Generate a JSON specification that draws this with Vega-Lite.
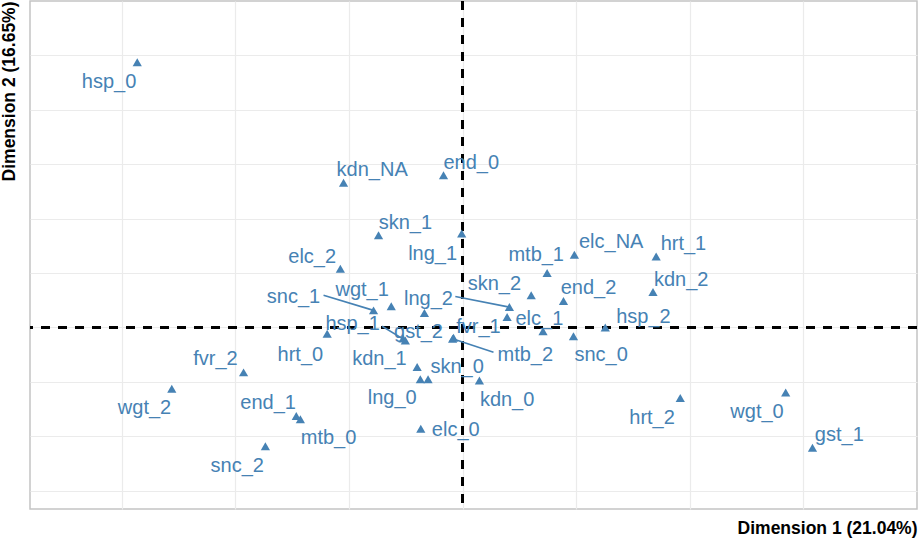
{
  "$schema": "https://vega.github.io/schema/vega-lite/v6.json",
  "width": 887,
  "height": 508,
  "autosize": {"type": "none"},
  "padding": {"left": 30, "top": 1, "right": 5, "bottom": 30},
  "background": "white",
  "config": {
    "view": {"stroke": "#c4c4c4", "strokeWidth": 1.5},
    "font": "Liberation Sans",
    "axis": {
      "labels": false, "ticks": false, "domain": false,
      "grid": true, "gridColor": "#ebebeb", "gridWidth": 1.2,
      "titleFontSize": 17.5, "titleFontWeight": "bold", "titleColor": "#000000",
      "titleFont": "Liberation Sans", "titleAnchor": "end"
    }
  },
  "data": {
    "values": [
      {"cat": "hsp_0", "x": -0.716, "y": 1.219, "lx": -0.778, "ly": 1.135},
      {"cat": "kdn_NA", "x": -0.262, "y": 0.665, "lx": -0.199, "ly": 0.729},
      {"cat": "end_0", "x": -0.042, "y": 0.699, "lx": 0.019, "ly": 0.760},
      {"cat": "skn_1", "x": -0.185, "y": 0.423, "lx": -0.126, "ly": 0.487},
      {"cat": "lng_1", "x": -0.002, "y": 0.431, "lx": -0.066, "ly": 0.343},
      {"cat": "elc_2", "x": -0.269, "y": 0.269, "lx": -0.331, "ly": 0.331},
      {"cat": "mtb_1", "x": 0.186, "y": 0.250, "lx": 0.162, "ly": 0.339},
      {"cat": "elc_NA", "x": 0.246, "y": 0.334, "lx": 0.327, "ly": 0.400},
      {"cat": "hrt_1", "x": 0.426, "y": 0.326, "lx": 0.486, "ly": 0.389},
      {"cat": "kdn_2", "x": 0.419, "y": 0.162, "lx": 0.481, "ly": 0.224},
      {"cat": "skn_2", "x": 0.151, "y": 0.147, "lx": 0.070, "ly": 0.204},
      {"cat": "end_2", "x": 0.222, "y": 0.121, "lx": 0.277, "ly": 0.188},
      {"cat": "lng_2", "x": 0.103, "y": 0.093, "lx": -0.075, "ly": 0.139, "sx": -0.016, "sy": 0.142},
      {"cat": "elc_1", "x": 0.098, "y": 0.047, "lx": 0.169, "ly": 0.047},
      {"cat": "fvr_0", "x": 0.177, "y": -0.018},
      {"cat": "snc_0", "x": 0.244, "y": -0.041, "lx": 0.305, "ly": -0.121},
      {"cat": "hsp_2", "x": 0.314, "y": -0.001, "lx": 0.398, "ly": 0.055},
      {"cat": "snc_1", "x": -0.196, "y": 0.078, "lx": -0.372, "ly": 0.147, "sx": -0.306, "sy": 0.147},
      {"cat": "wgt_1", "x": -0.157, "y": 0.097, "lx": -0.221, "ly": 0.178},
      {"cat": "gst_2", "x": -0.084, "y": 0.066, "lx": -0.097, "ly": -0.014},
      {"cat": "hsp_1", "x": -0.126, "y": -0.060, "lx": -0.242, "ly": 0.024, "sx": -0.177, "sy": 0.005},
      {"cat": "gst_0", "x": -0.131, "y": -0.051},
      {"cat": "hrt_0", "x": -0.298, "y": -0.029, "lx": -0.357, "ly": -0.118},
      {"cat": "mtb_2", "x": -0.022, "y": -0.052, "lx": 0.138, "ly": -0.121, "sx": 0.068, "sy": -0.114},
      {"cat": "fvr_1", "x": -0.020, "y": -0.048, "lx": 0.035, "ly": 0.009},
      {"cat": "kdn_1", "x": -0.100, "y": -0.182, "lx": -0.183, "ly": -0.139},
      {"cat": "lng_0", "x": -0.093, "y": -0.239, "lx": -0.155, "ly": -0.320},
      {"cat": "skn_0", "x": -0.076, "y": -0.239, "lx": -0.012, "ly": -0.175},
      {"cat": "kdn_0", "x": 0.037, "y": -0.244, "lx": 0.098, "ly": -0.328},
      {"cat": "elc_0", "x": -0.092, "y": -0.466, "lx": -0.015, "ly": -0.466},
      {"cat": "fvr_2", "x": -0.482, "y": -0.207, "lx": -0.544, "ly": -0.139},
      {"cat": "wgt_2", "x": -0.640, "y": -0.282, "lx": -0.700, "ly": -0.366},
      {"cat": "end_1", "x": -0.366, "y": -0.408, "lx": -0.428, "ly": -0.343},
      {"cat": "mtb_0", "x": -0.357, "y": -0.423, "lx": -0.295, "ly": -0.504},
      {"cat": "snc_2", "x": -0.434, "y": -0.547, "lx": -0.496, "ly": -0.631},
      {"cat": "hrt_2", "x": 0.479, "y": -0.325, "lx": 0.417, "ly": -0.408},
      {"cat": "wgt_0", "x": 0.711, "y": -0.300, "lx": 0.648, "ly": -0.381},
      {"cat": "gst_1", "x": 0.770, "y": -0.553, "lx": 0.829, "ly": -0.489}
    ]
  },
  "layer": [
    {
      "mark": {"type": "rule", "color": "#000000", "strokeWidth": 2, "strokeDash": [9, 8]},
      "encoding": {"x": {"datum": 0, "type": "quantitative", "title": "Dimension 1 (21.04%)"}}
    },
    {
      "mark": {"type": "rule", "color": "#000000", "strokeWidth": 2, "strokeDash": [9, 8]},
      "encoding": {"y": {"datum": 0, "type": "quantitative", "title": "Dimension 2 (16.65%)"}}
    },
    {
      "mark": {"type": "point", "shape": "triangle-up", "filled": true, "opacity": 1, "color": "#4682B4", "size": 85},
      "encoding": {
        "x": {
          "field": "x", "type": "quantitative",
          "scale": {"domain": [-0.952, 1.0], "nice": false, "zero": false},
          "axis": {"values": [-0.75, -0.5, -0.25, 0, 0.25, 0.5, 0.75], "titlePadding": 10},
          "title": "Dimension 1 (21.04%)"
        },
        "y": {
          "field": "y", "type": "quantitative",
          "scale": {"domain": [-0.835, 1.5], "nice": false, "zero": false},
          "axis": {"values": [-0.75, -0.5, -0.25, 0, 0.25, 0.5, 0.75, 1.0, 1.25], "titlePadding": 12},
          "title": "Dimension 2 (16.65%)"
        }
      }
    },
    {
      "transform": [{"filter": "isValid(datum.sx)"}],
      "mark": {"type": "rule", "color": "#4682B4", "strokeWidth": 1.6},
      "encoding": {
        "x": {"field": "x", "type": "quantitative", "title": "Dimension 1 (21.04%)"},
        "y": {"field": "y", "type": "quantitative", "title": "Dimension 2 (16.65%)"},
        "x2": {"field": "sx"},
        "y2": {"field": "sy"}
      }
    },
    {
      "transform": [{"filter": "isValid(datum.lx)"}],
      "mark": {"type": "text", "color": "#4682B4", "fontSize": 20, "font": "Liberation Sans", "align": "center", "baseline": "middle", "dy": 1.5},
      "encoding": {
        "x": {"field": "lx", "type": "quantitative", "title": "Dimension 1 (21.04%)"},
        "y": {"field": "ly", "type": "quantitative", "title": "Dimension 2 (16.65%)"},
        "text": {"field": "cat"}
      }
    }
  ]
}
